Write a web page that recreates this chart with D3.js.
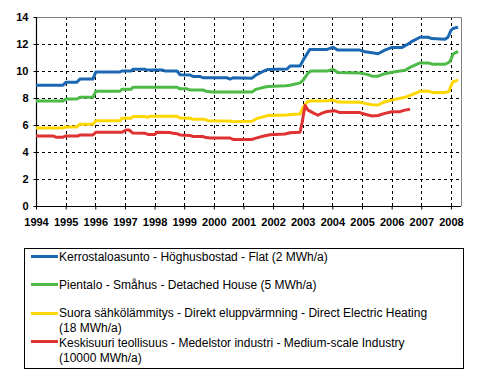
<!DOCTYPE html>
<html>
<head>
<meta charset="utf-8">
<script src="https://cdn.jsdelivr.net/npm/d3@7"></script>
<style>
  html, body { margin: 0; padding: 0; background: #fff; }
  svg { display: block; }
</style>
</head>
<body>
<svg id="chart" width="493" height="390"></svg>
<script>
// ---- Data (decimal year, c/kWh) ----
const seriesNames = [
  "Kerrostaloasunto - Höghusbostad - Flat (2 MWh/a)",
  "Pientalo - Småhus - Detached House (5 MWh/a)",
  "Suora sähkölämmitys - Direkt eluppvärmning - Direct Electric Heating (18 MWh/a)",
  "Keskisuuri teollisuus - Medelstor industri - Medium-scale Industry (10000 MWh/a)"
];
const legendLines = [
  ["Kerrostaloasunto - Höghusbostad - Flat (2 MWh/a)"],
  ["Pientalo - Småhus - Detached House (5 MWh/a)"],
  ["Suora sähkölämmitys - Direkt eluppvärmning - Direct Electric Heating", "(18 MWh/a)"],
  ["Keskisuuri teollisuus - Medelstor industri - Medium-scale Industry", "(10000 MWh/a)"]
];
const seriesColors = ["#1b67b2", "#4dba48", "#ffd700", "#e03232"];

const flatYears = [1994.00,1994.91,1995.01,1995.38,1995.48,1995.92,1996.02,1996.83,1996.90,1997.21,1997.27,1997.68,1997.74,1998.28,1998.35,1998.76,1998.86,1999.20,1999.30,1999.53,1999.63,2000.44,2000.55,2000.65,2001.29,2001.42,2001.69,2001.83,2002.47,2002.57,2002.91,2003.04,2003.24,2003.82,2004.02,2004.19,2004.93,2005.10,2005.34,2005.54,2005.77,2006.01,2006.35,2006.52,2006.69,2006.96,2007.23,2007.36,2007.80,2007.90,2008.00,2008.07,2008.24];
const flatValues = [8.95,8.95,9.17,9.17,9.40,9.40,9.93,9.93,10.00,10.00,10.13,10.13,10.07,10.07,10.00,10.00,9.72,9.70,9.60,9.60,9.50,9.50,9.40,9.50,9.47,9.70,10.00,10.12,10.15,10.37,10.37,10.90,11.60,11.60,11.75,11.55,11.55,11.42,11.35,11.28,11.55,11.75,11.75,11.95,12.20,12.50,12.50,12.40,12.35,12.50,13.00,13.15,13.25];

const houseYears = [1994.00,1994.91,1995.01,1995.38,1995.48,1995.92,1996.02,1996.83,1996.90,1997.21,1997.27,1998.76,1998.86,1999.09,1999.20,1999.63,1999.74,1999.94,2001.29,2001.42,2001.69,2001.83,2002.43,2002.57,2002.91,2003.01,2003.18,2003.28,2003.82,2004.02,2004.19,2004.93,2005.17,2005.34,2005.54,2005.77,2006.11,2006.45,2006.69,2006.96,2007.23,2007.39,2007.80,2007.94,2008.00,2008.07,2008.24];
const houseValues = [7.78,7.78,7.93,7.93,8.05,8.05,8.50,8.50,8.65,8.65,8.80,8.80,8.68,8.68,8.60,8.60,8.50,8.45,8.45,8.64,8.80,8.85,8.90,8.95,9.12,9.30,9.85,10.00,10.00,10.12,9.88,9.85,9.75,9.62,9.62,9.80,9.95,10.05,10.35,10.60,10.60,10.50,10.50,10.65,10.85,11.25,11.45];

const heatingYears = [1994.00,1994.91,1995.01,1995.38,1995.48,1995.92,1996.02,1996.83,1996.90,1997.21,1997.27,1997.68,1997.74,1997.85,1998.76,1998.86,1999.20,1999.30,1999.70,1999.80,2000.55,2000.61,2001.29,2001.42,2001.69,2001.83,2002.47,2002.57,2002.91,2003.01,2003.14,2003.24,2003.82,2004.02,2004.19,2004.93,2005.10,2005.34,2005.54,2005.77,2006.11,2006.45,2006.69,2006.96,2007.23,2007.39,2007.80,2007.94,2008.00,2008.07,2008.24];
const heatingValues = [5.78,5.78,5.86,5.86,6.06,6.06,6.32,6.32,6.50,6.50,6.63,6.63,6.57,6.64,6.64,6.52,6.50,6.42,6.42,6.32,6.30,6.25,6.27,6.45,6.62,6.70,6.74,6.78,6.82,7.30,7.70,7.78,7.80,7.85,7.70,7.68,7.60,7.50,7.48,7.72,7.90,8.05,8.25,8.50,8.52,8.40,8.40,8.50,8.90,9.20,9.32];

const industryYears = [1994.00,1994.57,1994.67,1994.91,1995.01,1995.42,1995.48,1995.92,1996.02,1996.90,1997.04,1997.14,1997.27,1997.68,1997.78,1998.01,1998.08,1998.52,1998.62,1998.76,1998.86,1999.20,1999.30,1999.63,1999.74,1999.87,2000.55,2000.65,2001.29,2001.42,2001.69,2001.89,2002.40,2002.57,2002.91,2002.98,2003.08,2003.18,2003.35,2003.51,2003.65,2003.82,2004.09,2004.26,2004.93,2005.10,2005.34,2005.54,2005.77,2006.01,2006.28,2006.45,2006.62];
const industryValues = [5.19,5.19,5.10,5.10,5.19,5.19,5.26,5.26,5.46,5.46,5.63,5.63,5.40,5.38,5.30,5.30,5.46,5.44,5.38,5.36,5.26,5.22,5.15,5.15,5.07,5.03,5.03,4.93,4.93,5.03,5.18,5.28,5.33,5.43,5.46,6.20,7.45,7.10,6.90,6.72,6.88,7.00,7.05,6.92,6.92,6.80,6.67,6.70,6.86,6.98,6.99,7.10,7.17];

const yearTicks = [1994,1995,1996,1997,1998,1999,2000,2001,2002,2003,2004,2005,2006,2007,2008];
const valueTicks = [0,2,4,6,8,10,12,14];

const allYears = [flatYears, houseYears, heatingYears, industryYears];
const allValues = [flatValues, houseValues, heatingValues, industryValues];

// ---- Layout ----
const svg = d3.select("#chart");
const plot = { left: 36, right: 461, top: 17, bottom: 206 };

const x = d3.scaleLinear().domain([1994, 2008.34]).range([plot.left, plot.right]);
const y = d3.scaleLinear().domain([0, 14]).range([plot.bottom, plot.top]);

// gridlines
const grid = svg.append("g");
grid.selectAll("line.h").data(valueTicks.filter(v => v > 0 && v < 14)).enter()
  .append("line")
  .attr("x1", plot.left).attr("x2", plot.right)
  .attr("y1", d => y(d) + 0.5).attr("y2", d => y(d) + 0.5)
  .attr("stroke", "#000").attr("stroke-width", 1).attr("stroke-dasharray", "3,3");
grid.selectAll("line.v").data(yearTicks.filter(t => t > 1994)).enter()
  .append("line")
  .attr("x1", d => Math.round(x(d)) + 0.5).attr("x2", d => Math.round(x(d)) + 0.5)
  .attr("y1", plot.top).attr("y2", plot.bottom)
  .attr("stroke", "#000").attr("stroke-width", 1).attr("stroke-dasharray", "3,3");

// plot border: top & right gray
svg.append("path")
  .attr("d", `M${plot.left},${plot.top + 0.5}H${plot.right + 0.5}V${plot.bottom}`)
  .attr("fill", "none").attr("stroke", "#808080").attr("stroke-width", 1);

// axes
const xAxis = d3.axisBottom(x).tickValues(yearTicks).tickFormat(d3.format("d")).tickSize(3).tickPadding(9);
const yAxis = d3.axisLeft(y).tickValues(valueTicks).tickFormat(d3.format("d")).tickSize(3).tickPadding(5);

const gx = svg.append("g").attr("transform", `translate(0,${plot.bottom + 0.5})`).call(xAxis);
const gy = svg.append("g").attr("transform", `translate(${plot.left + 0.5},0)`).call(yAxis);
[gx, gy].forEach(g => {
  g.select(".domain").attr("stroke", "#000").attr("stroke-width", 1.2);
  g.selectAll(".tick line").attr("stroke", "#000");
  g.selectAll(".tick text")
    .attr("fill", "#000")
    .style("font-family", "'Liberation Sans', Arial, sans-serif")
    .style("font-weight", "bold")
    .style("font-size", "11px");
});
gx.selectAll(".tick line").attr("y1", 0).attr("y2", 3);
gx.select(".domain").attr("d", `M${plot.left},0H${plot.right}`);
gy.select(".domain").attr("d", `M0,${plot.top}V${plot.bottom}`);

// lines
const line = d3.line().x(d => x(d[0])).y(d => y(d[1]));
const linesG = svg.append("g");
allYears.forEach((yrs, i) => {
  const pts = yrs.map((yr, j) => [yr, allValues[i][j]]);
  linesG.append("path")
    .datum(pts)
    .attr("d", line)
    .attr("fill", "none")
    .attr("stroke", seriesColors[i])
    .attr("stroke-width", 3)
    .attr("stroke-linejoin", "round");
});

// legend
const legend = svg.append("g");
legend.append("rect")
  .attr("x", 24.5).attr("y", 248.5).attr("width", 439).attr("height", 120)
  .attr("fill", "#fff").attr("stroke", "#000").attr("stroke-width", 1);

const legendRowY = [256.5, 284.5, 313.5, 341.5];
const legendTextY = [261, 289, 317, 346.5];
legendLines.forEach((lines, i) => {
  legend.append("line")
    .attr("x1", 31).attr("x2", 58)
    .attr("y1", legendRowY[i]).attr("y2", legendRowY[i])
    .attr("stroke", seriesColors[i]).attr("stroke-width", 3);
  const t = legend.append("text")
    .attr("x", 59).attr("y", legendTextY[i])
    .style("font-family", "'Liberation Sans', Arial, sans-serif")
    .style("font-size", "12px")
    .attr("fill", "#000");
  lines.forEach((ln, k) => {
    t.append("tspan").attr("x", 59).attr("dy", k === 0 ? 0 : 15).text(ln);
  });
});
</script>
</body>
</html>
